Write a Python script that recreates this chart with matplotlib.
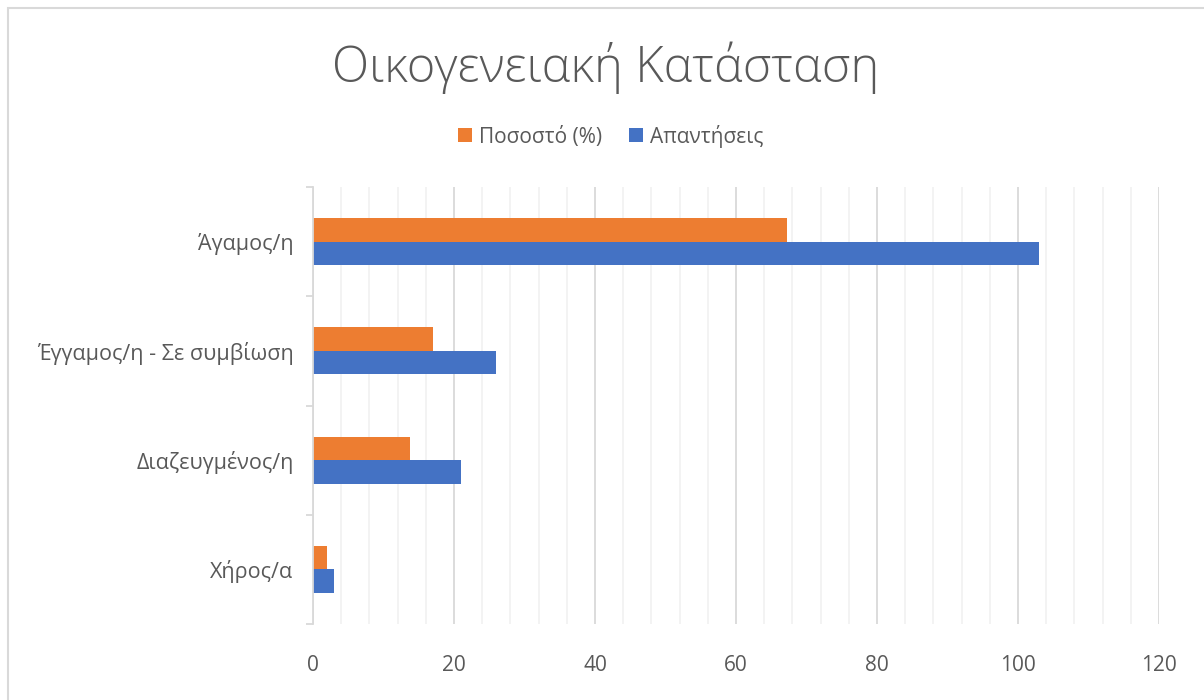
import matplotlib
matplotlib.use("Agg")
import matplotlib.pyplot as plt
from matplotlib.patches import Rectangle
import numpy as np

plt.rcParams['font.family'] = ['Open Sans', 'DejaVu Sans']

categories = ["Άγαμος/η", "Έγγαμος/η - Σε συμβίωση", "Διαζευγμένος/η", "Χήρος/α"]
responses = [103, 26, 21, 3]
percent = [67.3, 17.0, 13.7, 1.96]
series_names = ["Ποσοστό (%)", "Απαντήσεις"]
title = "Οικογενειακή Κατάσταση"

orange = "#ED7D31"
blue = "#4472C4"
txt = "#595959"

fig = plt.figure(figsize=(12.04, 7.0), dpi=100)
fig.patch.set_facecolor("white")

# outer chart border
fig.add_artist(Rectangle((8/1204, -0.05), 1.2, 1 - 8/700 + 0.05, transform=fig.transFigure,
                         fill=False, edgecolor="#D9D9D9", linewidth=1.5))

ax = fig.add_axes([313/1204, 1 - 624/700, (1159 - 313)/1204, (624 - 187)/700])

n = len(categories)
pos = np.arange(n)[::-1]  # first category on top
h = 0.215
ax.barh(pos + h/2, percent, height=h, color=orange, label=series_names[0], zorder=3)
ax.barh(pos - h/2, responses, height=h, color=blue, label=series_names[1], zorder=3)

ax.set_xlim(0, 120)
ax.set_ylim(-0.5, n - 0.5)
ax.set_xticks(np.arange(0, 121, 20))
ax.set_xticks(np.arange(0, 121, 4), minor=True)
ax.grid(axis='x', which='major', color="#D9D9D9", linewidth=1.3, zorder=0)
ax.grid(axis='x', which='minor', color="#F2F2F2", linewidth=1.3, zorder=0)

ax.set_yticks(pos)
ax.set_yticklabels(categories)
ax.set_yticks(np.arange(-0.5, n, 1), minor=True)
ax.tick_params(axis='y', which='major', length=0, pad=14, labelsize=15.5, labelcolor=txt)
ax.tick_params(axis='y', which='minor', length=5, width=1.3, color="#D9D9D9")
ax.tick_params(axis='x', which='both', length=0, pad=22, labelsize=15, labelcolor=txt)

for s in ["top", "right", "bottom"]:
    ax.spines[s].set_visible(False)
ax.spines["left"].set_color("#D9D9D9")
ax.spines["left"].set_linewidth(1.3)
ax.spines["left"].set_zorder(4)

fig.text(606/1204, 1 - 68/700, title, ha='center', va='center', fontsize=35,
         fontweight='light', color=txt)

handles, labels = ax.get_legend_handles_labels()
fig.legend(handles, labels, loc='center', bbox_to_anchor=(611/1204, 1 - 136/700), ncol=2,
           frameon=False, fontsize=15, labelcolor=txt, handlelength=0.65, handleheight=0.65,
           handletextpad=0.35, columnspacing=1.3)

fig.savefig("out.png", dpi=100)
